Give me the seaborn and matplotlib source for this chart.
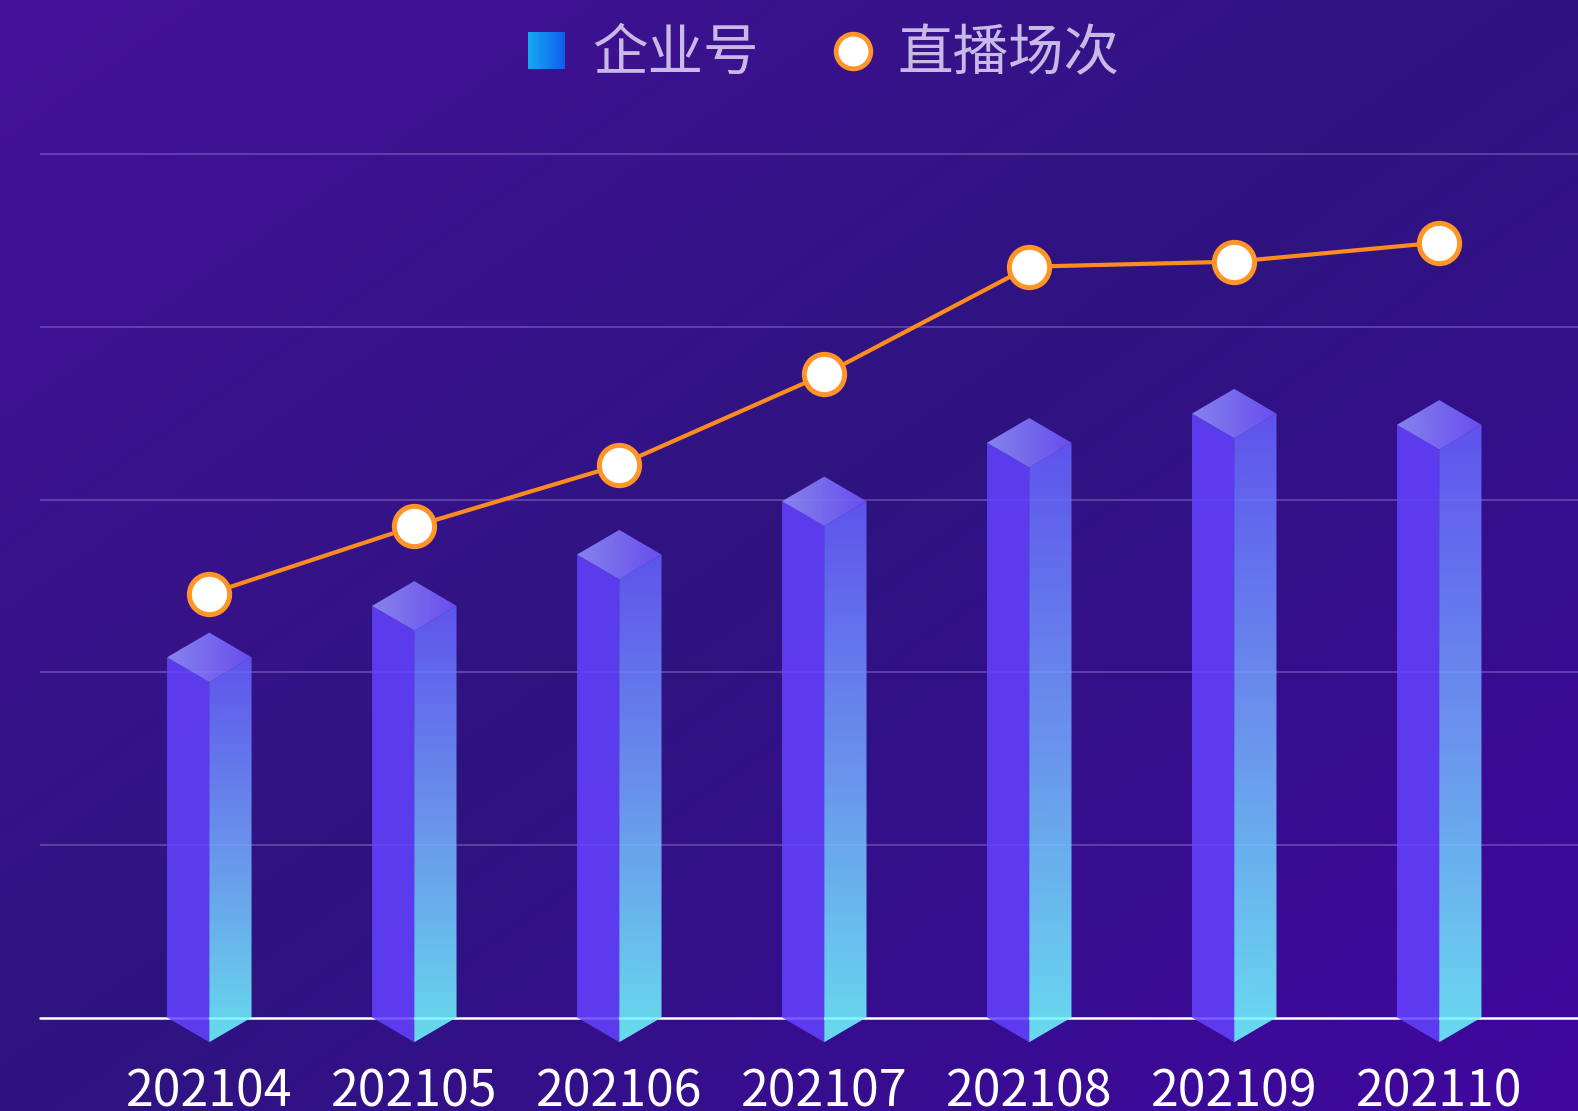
import numpy as np
import pandas as pd
import matplotlib
matplotlib.use("Agg")
import matplotlib.pyplot as plt
import seaborn as sns
from matplotlib.colors import LinearSegmentedColormap, to_rgb
from matplotlib.patches import Polygon, Rectangle
from matplotlib.lines import Line2D
from matplotlib.legend_handler import HandlerBase

# data
months = ["202104", "202105", "202106", "202107", "202108", "202109", "202110"]
accounts = [2087, 2385, 2682, 2991, 3330, 3499, 3434]   # 企业号
sessions = [2455, 2846, 3201, 3726, 4350, 4379, 4490]   # 直播场次
grid_ticks = [1000, 2000, 3000, 4000, 5000]

BG = "#2f1480"
ALPHA = 0.86
HALF_W = 0.206   # half width of a pillar (x units)
DEPTH = 143      # half height of the top diamond (y units)


def unblend(color, alpha=ALPHA, bg=BG):
    # colour to paint with alpha so it shows as `color` over the background
    c = np.array(to_rgb(color))
    b = np.array(to_rgb(bg))
    return tuple(np.clip((c - (1 - alpha) * b) / alpha, 0, 1))


class GradientSquare(HandlerBase):
    def create_artists(self, legend, orig_handle, xdescent, ydescent,
                       width, height, fontsize, trans):
        size = 26.5
        x0 = -xdescent + width / 2 - size / 2
        y0 = -ydescent + height / 2 - size / 2
        cmap = LinearSegmentedColormap.from_list("sq", ["#12a9f0", "#115eee"])
        n = 20
        arts = []
        for i in range(n):
            arts.append(Rectangle((x0 + i * size / n, y0), size / n * 1.05, size,
                                  facecolor=cmap(i / (n - 1)), edgecolor="none",
                                  transform=trans))
        return arts


sns.set_theme(style="white")
plt.rcParams["font.family"] = ["Noto Sans CJK SC", "DejaVu Sans"]

fig = plt.figure(figsize=(15.78, 11.11), dpi=100)
fig.patch.set_facecolor(BG)

# diagonal background gradient
bg_ax = fig.add_axes([0, 0, 1, 1], zorder=-10)
yy, xx = np.mgrid[0:1:300j, 0:1:400j]
bg_cmap = LinearSegmentedColormap.from_list("bg", ["#46109b", "#2e1480", "#40079f"])
bg_ax.imshow(xx + yy, cmap=bg_cmap, vmin=0, vmax=2, aspect="auto",
             extent=[0, 1, 0, 1], interpolation="bilinear")
bg_ax.axis("off")

ax = fig.add_axes([40 / 1578, 93.5 / 1111, 1 - 40 / 1578, 1017.5 / 1111])
ax.set_facecolor("none")

pos = np.arange(len(months))
df = pd.DataFrame({"pos": pos, "month": months,
                   "accounts": accounts, "sessions": sessions})

sns.barplot(data=df, x="pos", y="accounts", native_scale=True,
            color=unblend("#5c3cf2"), saturation=1, width=2 * HALF_W,
            errorbar=None, alpha=ALPHA, zorder=3, ax=ax)

side_cmap = LinearSegmentedColormap.from_list(
    "side", [unblend("#5f55f4"), unblend("#6a95ec"), unblend("#68dded")])
top_cmap = LinearSegmentedColormap.from_list(
    "top", [unblend("#8684fd"), unblend("#694ef6")])

for bar, x, v in zip(ax.patches, pos, accounts):
    # left face: seaborn bar, stretched below the baseline and clipped to the prism
    left = Polygon([(x - HALF_W, v), (x, v - DEPTH), (x, -DEPTH), (x - HALF_W, 0)],
                   closed=True, transform=ax.transData)
    bar.set_y(-DEPTH)
    bar.set_height(v + DEPTH)
    bar.set_edgecolor("none")
    bar.set_clip_path(left)
    bar.set_clip_box(fig.bbox)

    # right face with vertical gradient
    right = Polygon([(x, v - DEPTH), (x + HALF_W, v), (x + HALF_W, 0), (x, -DEPTH)],
                    closed=True, transform=ax.transData)
    im = ax.imshow(np.linspace(0, 1, 256).reshape(-1, 1), cmap=side_cmap,
                   extent=[x, x + HALF_W, -DEPTH, v], aspect="auto",
                   alpha=ALPHA, zorder=3, interpolation="bilinear")
    im.set_clip_path(right)
    im.set_clip_box(fig.bbox)

    # top diamond with horizontal gradient
    top = Polygon([(x - HALF_W, v), (x, v + DEPTH), (x + HALF_W, v), (x, v - DEPTH)],
                  closed=True, transform=ax.transData)
    im = ax.imshow(np.linspace(0, 1, 256).reshape(1, -1), cmap=top_cmap,
                   extent=[x - HALF_W, x + HALF_W, v - DEPTH, v + DEPTH],
                   aspect="auto", alpha=ALPHA, zorder=3, interpolation="bilinear")
    im.set_clip_path(top)
    im.set_clip_box(fig.bbox)

sns.lineplot(data=df, x="pos", y="sessions", ax=ax, color="#ff8c1f",
             linewidth=3, marker="o", markersize=29, markerfacecolor="white",
             markeredgecolor="#ff9427", markeredgewidth=3.6, zorder=6,
             clip_on=False)

ax.axhline(0, color="white", linewidth=1.8, zorder=2, clip_on=False)

ax.set_yticks(grid_ticks)
ax.yaxis.grid(True, color="#b9a7ea", alpha=0.4, linewidth=1.1)
ax.xaxis.grid(False)
ax.set_axisbelow(True)
ax.tick_params(axis="y", length=0, labelleft=False)
ax.set_xticks(pos)
ax.set_xticklabels(months)
ax.tick_params(axis="x", length=0, pad=35, labelsize=36, labelcolor="white")
ax.set_xlabel("")
ax.set_ylabel("")
for s in ax.spines.values():
    s.set_visible(False)
ax.set_xlim(-0.826, 6.677)
ax.set_ylim(0, 5895)

square = Rectangle((0, 0), 1, 1)
circle = Line2D([], [], marker="o", linestyle="none", markersize=25,
                markerfacecolor="white", markeredgecolor="#ff9427",
                markeredgewidth=3.4)
fig.legend(handles=[square, circle], labels=["企业号", "直播场次"],
           handler_map={square: GradientSquare()},
           loc="center", bbox_to_anchor=(0.521, 0.951), ncol=2, frameon=False,
           fontsize=40, handlelength=0.8, handletextpad=0.41,
           columnspacing=1.3, labelcolor="#c9b9e6")

fig.savefig("out.png", dpi=100)
